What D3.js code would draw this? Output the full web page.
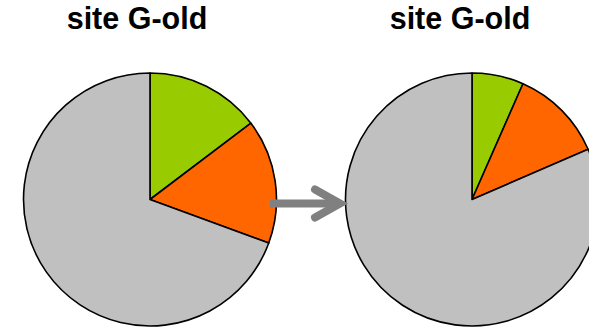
<!DOCTYPE html>
<html><head><meta charset="utf-8">
<script src="https://cdn.jsdelivr.net/npm/d3@7"></script>
<style>html,body{margin:0;padding:0;background:#fff;overflow:hidden}</style>
</head><body>
<svg id="chart" width="589" height="327"></svg>
<script>
const categories = ["green", "orange", "grey"];
const titles = ["site G-old", "site G-old"];
const leftValues = [14.7, 15.9, 69.4];
const rightValues = [6.6, 11.9, 81.5];
const colors = ["#99CC00", "#FF6600", "#C0C0C0"];

const svg = d3.select("#chart");
const color = d3.scaleOrdinal().domain(categories).range(colors);
const pie = d3.pie().sort(null).value(d => d.v);
const r = 126.5;
const arc = d3.arc().innerRadius(0).outerRadius(r);

function drawPie(values, cx, cy, title, tx) {
  const g = svg.append("g").attr("transform", `translate(${cx},${cy})`);
  const data = categories.map((c, i) => ({c, v: values[i]}));
  g.selectAll("path").data(pie(data)).enter().append("path")
    .attr("d", arc)
    .attr("fill", d => color(d.data.c))
    .attr("stroke", "#000")
    .attr("stroke-width", 1.6)
    .attr("stroke-linejoin", "round");
  svg.append("text").attr("x", tx).attr("y", 28.5)
    .attr("text-anchor", "middle")
    .attr("font-family", "Liberation Sans, Arial, sans-serif")
    .attr("font-weight", "bold").attr("font-size", 30.5)
    .text(title);
}

drawPie(leftValues, 150, 199.5, titles[0], 137);
drawPie(rightValues, 472, 199.5, titles[1], 460);

// arrow
const ay = 203.5;
svg.append("line").attr("x1", 270).attr("y1", ay).attr("x2", 338).attr("y2", ay)
  .attr("stroke", "#808080").attr("stroke-width", 8);
svg.append("path")
  .attr("d", `M315,${ay - 14}L340,${ay}L315,${ay + 14}`)
  .attr("fill", "none").attr("stroke", "#808080").attr("stroke-width", 8)
  .attr("stroke-linecap", "round").attr("stroke-linejoin", "miter");
</script>
</body></html>
